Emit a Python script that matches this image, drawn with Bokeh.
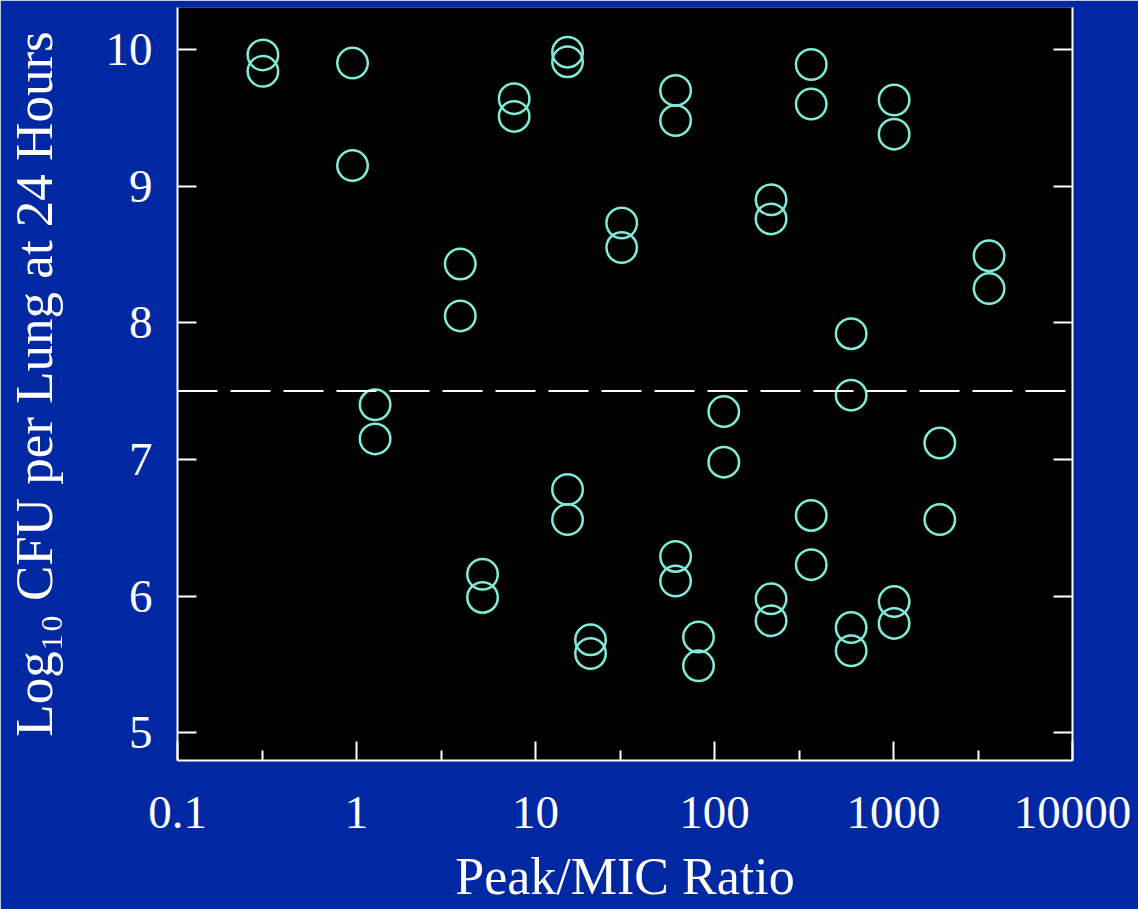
from bokeh.plotting import figure
from bokeh.models import (Range1d, FixedTicker, CustomJSTickFormatter, LinearAxis,
                          Span, ColumnDataSource)
from bokeh.embed import file_html
from bokeh.resources import INLINE

# ---- data ----
peak_mic = [0.3, 0.3, 0.95, 0.95, 1.27, 1.27, 3.8, 3.8, 5.06, 5.06, 7.6, 7.6,
            15.1, 15.1, 15.1, 15.1, 20.3, 20.3, 30.3, 30.3,
            60.6, 60.6, 60.6, 60.6, 81.4, 81.4, 112.7, 112.7,
            207, 207, 207, 207, 347, 347, 347, 347,
            580, 580, 580, 580, 1008, 1008, 1008, 1008,
            1814, 1814, 3420, 3420]
log_cfu = [9.96, 9.84, 9.90, 9.15, 7.40, 7.15, 8.43, 8.05, 6.16, 5.99, 9.64, 9.51,
           9.98, 9.91, 6.78, 6.56, 5.68, 5.58, 8.73, 8.55,
           9.70, 9.48, 6.29, 6.11, 5.70, 5.49, 7.35, 6.98,
           8.90, 8.76, 5.98, 5.82, 9.89, 9.60, 6.59, 6.23,
           7.92, 7.47, 5.77, 5.60, 9.63, 9.38, 5.96, 5.80,
           7.12, 6.56, 8.49, 8.25]
x_ticks = [0.1, 1, 10, 100, 1000, 10000]
x_minor_ticks = [0.3, 3, 30, 300, 3000]
y_ticks = [5, 6, 7, 8, 9, 10]
threshold = 7.5
x_title = "Peak/MIC Ratio"
y_title = "Log\u2081\u2080 CFU per Lung at 24 Hours"

BLUE = "#0028a2"
CIRCLE = "#7fecd9"
FONT = "Liberation Serif"

p = figure(width=1138, height=909, x_axis_type="log",
           x_range=Range1d(0.1, 10000), y_range=Range1d(4.797, 10.307),
           output_backend="svg", toolbar_location=None,
           min_border_left=177, min_border_right=66,
           min_border_top=7, min_border_bottom=149)
p.background_fill_color = "black"
p.border_fill_color = BLUE
p.outline_line_color = None
p.xgrid.visible = False
p.ygrid.visible = False

src = ColumnDataSource(dict(x=peak_mic, y=log_cfu))
p.scatter("x", "y", source=src, marker="circle", size=30.5,
          fill_color=None, line_color=CIRCLE, line_width=2.5)

p.add_layout(Span(location=threshold, dimension="width", line_color="white",
                  line_width=2, line_dash="40 13"))

# x axis
xa = p.xaxis[0]
xa.ticker = FixedTicker(ticks=x_ticks, minor_ticks=x_minor_ticks)
xa.formatter = CustomJSTickFormatter(code="return tick < 1 ? tick.toFixed(1) : tick.toFixed(0);")
xa.major_tick_in = 19
xa.major_tick_out = 0
xa.minor_tick_in = 10
xa.minor_tick_out = 0
xa.major_tick_line_color = "white"
xa.minor_tick_line_color = "white"
xa.major_tick_line_width = 2
xa.minor_tick_line_width = 2
xa.axis_line_color = "white"
xa.axis_line_width = 2
xa.major_label_text_font = FONT
xa.major_label_text_font_size = "47px"
xa.major_label_text_color = "white"
xa.major_label_standoff = 36
xa.axis_label = x_title
xa.axis_label_text_font = FONT
xa.axis_label_text_font_size = "52px"
xa.axis_label_text_font_style = "normal"
xa.axis_label_text_color = "white"
xa.axis_label_standoff = 17

# y axis
ya = p.yaxis[0]
ya.ticker = FixedTicker(ticks=y_ticks, minor_ticks=[])
ya.major_tick_in = 19
ya.major_tick_out = 0
ya.minor_tick_line_color = None
ya.major_tick_line_color = "white"
ya.major_tick_line_width = 2
ya.axis_line_color = "white"
ya.axis_line_width = 2
ya.major_label_text_font = FONT
ya.major_label_text_font_size = "47px"
ya.major_label_text_color = "white"
ya.major_label_standoff = 25
ya.axis_label = y_title
ya.axis_label_text_font = FONT
ya.axis_label_text_font_size = "53px"
ya.axis_label_text_font_style = "normal"
ya.axis_label_text_color = "white"
ya.axis_label_standoff = 40

# right axis: spine + inward ticks, no labels
ra = LinearAxis(ticker=FixedTicker(ticks=y_ticks, minor_ticks=[]))
ra.major_tick_in = 19
ra.major_tick_out = 0
ra.minor_tick_line_color = None
ra.major_tick_line_color = "white"
ra.major_tick_line_width = 2
ra.axis_line_color = "white"
ra.axis_line_width = 2
ra.major_label_text_font_size = "0px"
ra.major_label_text_color = None
p.add_layout(ra, "right")

open("out.html", "w").write(file_html(p, INLINE))
